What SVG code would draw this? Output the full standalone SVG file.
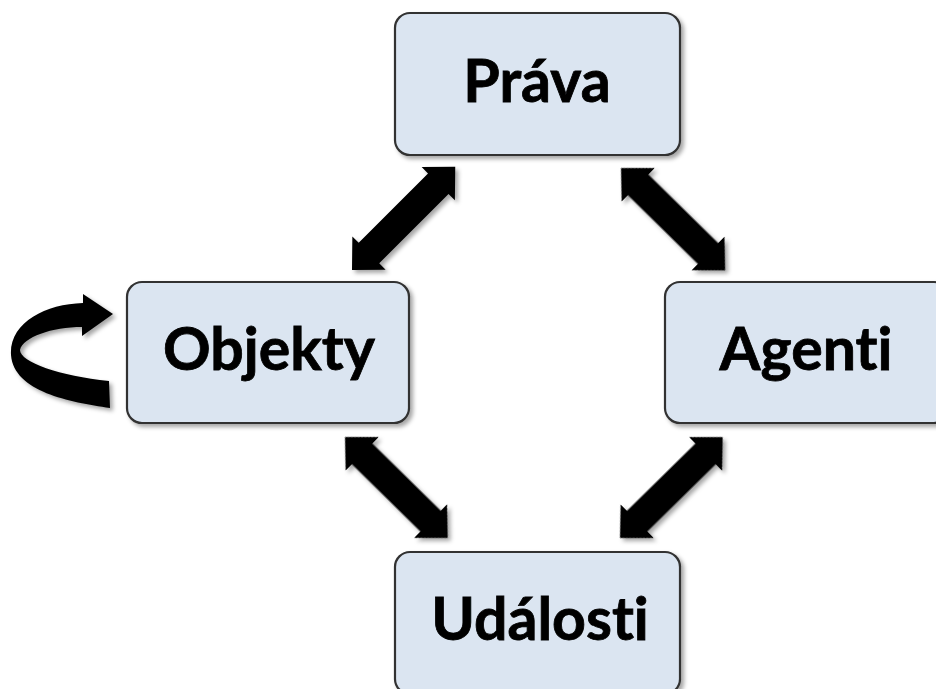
<svg xmlns="http://www.w3.org/2000/svg" width="936" height="689" viewBox="0 0 936 689">
  <defs>
    <filter id="shadow" x="-20%" y="-20%" width="140%" height="140%">
      <feDropShadow dx="3" dy="3" stdDeviation="2" flood-color="#000" flood-opacity="0.35"/>
    </filter>
    <!-- double-headed block arrow, laid out along +x from 0 to 146 -->
    <path id="dbl146" d="M0,0 L24,-23.5 L24,-14.5 L122,-14.5 L122,-23.5 L146,0 L122,23.5 L122,14.5 L24,14.5 L24,23.5 Z"/>
    <path id="dbl144" d="M0,0 L24,-23.5 L24,-14.5 L120,-14.5 L120,-23.5 L144,0 L120,23.5 L120,14.5 L24,14.5 L24,23.5 Z"/>
  </defs>
  <style>
    .box { fill: #dbe5f1; stroke: #333; stroke-width: 2.2; }
    .label { font-family: Lato, "Open Sans", sans-serif; font-weight: 700; font-size: 59px; fill: #000; stroke: #000; stroke-width: 0.8; text-anchor: middle; font-variant-ligatures: none; font-feature-settings: "liga" 0, "clig" 0; }
    .arrow { fill: #000; }
  </style>

  <rect width="936" height="689" fill="#fff"/>

  <g id="connectors" filter="url(#shadow)">
    <use href="#dbl146" class="arrow" transform="translate(352,270) rotate(-45)"/>
    <use href="#dbl146" class="arrow" transform="translate(621,168) rotate(44.5)"/>
    <use href="#dbl144" class="arrow" transform="translate(345,437) rotate(44.5)"/>
    <use href="#dbl144" class="arrow" transform="translate(620,538) rotate(-44.5)"/>
    <!-- self loop on Objekty -->
    <path class="arrow" d="M110,408 C70,402 14,392 11,355 C9,323 45,304 83,303 L83,294 L113,314 L82,336 L82,327 C52,327 23,337 20,350 C20,362 60,376 109,381 Z"/>
  </g>

  <g id="prava" filter="url(#shadow)">
    <rect class="box" x="395" y="13" width="285" height="142" rx="15"/>
    <text class="label" x="537" y="102">Práva</text>
  </g>

  <g id="objekty" filter="url(#shadow)">
    <rect class="box" x="127" y="282" width="282" height="141" rx="15"/>
    <text class="label" x="269" y="370">Objekty</text>
  </g>

  <g id="agenti" filter="url(#shadow)">
    <rect class="box" x="665" y="282" width="284" height="141" rx="15"/>
    <text class="label" x="806" y="370">Agenti</text>
  </g>

  <g id="udalosti" filter="url(#shadow)">
    <rect class="box" x="395" y="552" width="285" height="142" rx="15"/>
    <text class="label" x="540" y="640">Události</text>
  </g>
</svg>
